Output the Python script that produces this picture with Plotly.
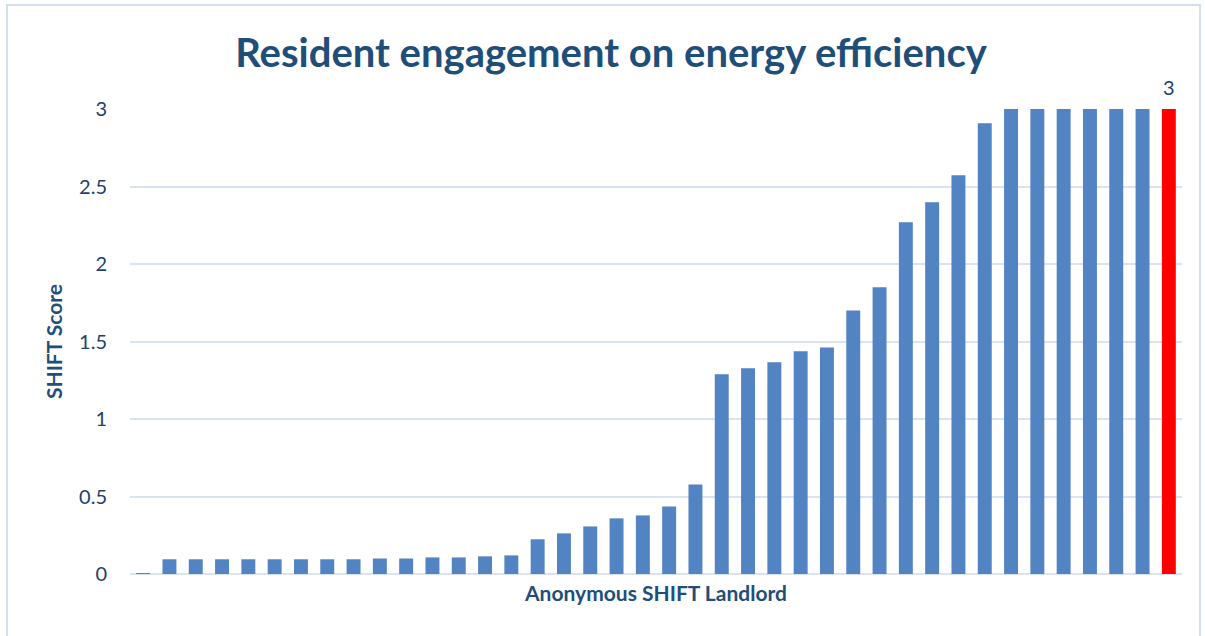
import plotly.graph_objects as go

landlords = [f"L{i:02d}" for i in range(1, 41)]
scores = [0.005, 0.095, 0.095, 0.095, 0.095, 0.095, 0.095, 0.095, 0.095, 0.1,
          0.1, 0.107, 0.107, 0.114, 0.12, 0.224, 0.262, 0.307, 0.359, 0.378,
          0.436, 0.578, 1.288, 1.327, 1.366, 1.437, 1.462, 1.70, 1.85, 2.269,
          2.398, 2.572, 2.908, 3, 3, 3, 3, 3, 3, 3]
highlight_index = 39

BLUE = "#5283C3"
RED = "#FF0000"
TEXT = "#1F3F6B"
GRID = "#D9E3F1"

colors = [RED if i == highlight_index else BLUE for i in range(len(scores))]

fig = go.Figure()
fig.add_trace(go.Bar(
    x=landlords, y=scores,
    marker=dict(color=colors, line=dict(width=0)),
    cliponaxis=False,
))
fig.add_annotation(x=landlords[highlight_index], y=scores[highlight_index],
                   text=f"{scores[highlight_index]:g}", showarrow=False,
                   yanchor="middle", yshift=22,
                   font=dict(family="Lato", size=20, color=TEXT))

W, H = 1205, 636
L, R, T, B = 130, 23, 109, 62
pw, ph = W - L - R, H - T - B

def px(x):
    return (x - L) / pw

def py(y):
    return (H - B - y) / ph

fig.add_shape(type="rect", xref="paper", yref="paper",
              x0=px(7), x1=px(1200), y0=py(645), y1=py(5),
              line=dict(color="#D3DEEE", width=2), fillcolor="rgba(0,0,0,0)", layer="below")

fig.update_layout(
    width=W, height=H,
    margin=dict(l=L, r=R, t=T, b=B, pad=0),
    paper_bgcolor="white", plot_bgcolor="white",
    bargap=0.47,
    showlegend=False,
    title=dict(text="<b>Resident engagement on energy efficiency</b>",
               x=px(611), xref="paper", xanchor="center",
               y=1 - 53 / H, yanchor="middle",
               font=dict(family="Lato", size=40, color="#1F4E79")),
    font=dict(family="Lato", color=TEXT),
)
fig.update_xaxes(showticklabels=False, showgrid=False, showline=False, ticks="",
                 title=dict(text="<b>Anonymous SHIFT Landlord</b>", standoff=12,
                            font=dict(family="Lato", size=21, color="#1F4E79")))
fig.update_yaxes(range=[0, 3], dtick=0.5, showgrid=True, gridcolor=GRID, gridwidth=2,
                 zeroline=True, zerolinecolor=GRID, zerolinewidth=2, showline=False,
                 ticks="", ticklabelstandoff=22,
                 tickfont=dict(family="Lato", size=20, color=TEXT),
                 title=dict(text="<b>SHIFT Score</b>", standoff=10,
                            font=dict(family="Lato", size=21, color="#1F4E79")))

fig.write_html("out.html")
